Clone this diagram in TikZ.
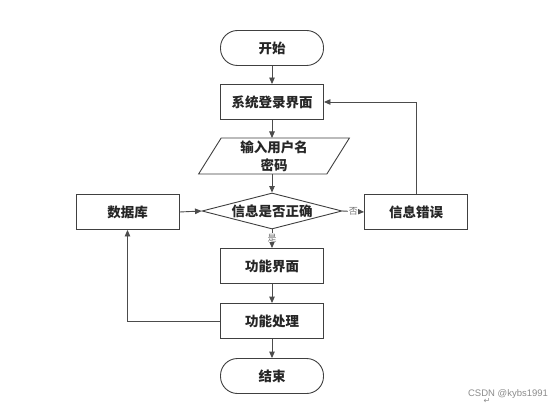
\documentclass[tikz,border=0pt]{standalone}
\usepackage{fontspec}
\newfontfamily\cjk{Noto Sans CJK SC}
\newfontfamily\wmfont{Liberation Sans}
\newfontfamily\symfont{DejaVu Sans}
\usetikzlibrary{shapes.geometric,arrows.meta}
\begin{document}
\begin{tikzpicture}[x=1pt,y=-1pt,
  every node/.style={font=\cjk\bfseries\fontsize{13.5pt}{18pt}\selectfont, text=black!85},
  box/.style={draw=black!75, line width=0.9pt, minimum width=103pt, minimum height=35pt, inner sep=0pt},
  term/.style={box, rounded corners=17pt},
  para/.style={draw=black!75, line width=0.9pt, trapezium, trapezium left angle=65, trapezium right angle=115,
     trapezium stretches=true, minimum width=152pt, minimum height=36pt, inner sep=0pt, align=center},
  dec/.style={draw=black!75, line width=0.9pt, diamond, aspect=3.9, minimum width=140pt, minimum height=36pt, inner sep=0pt},
  conn/.style={draw=black!70, line width=0.9pt, -{Triangle[length=6.5pt,width=5.5pt]}},
  lab/.style={font=\cjk\fontsize{9pt}{10pt}\selectfont, text=black!55, fill=white, inner sep=0.5pt}
]
\useasboundingbox (0,0) rectangle (553,406);
\fill[white] (0,0) rectangle (553,406);

\node[term] (start) at (272,48) {开始};
\node[box] (login) at (272,102) {系统登录界面};
\node[para] (input) at (274,156) {输入用户名\\密码};
\node[dec] (check) at (272,211) {信息是否正确};
\node[box] (db) at (127.5,212) {数据库};
\node[box] (err) at (416,212) {信息错误};
\node[box] (func) at (272,266) {功能界面};
\node[box] (proc) at (272,321) {功能处理};
\node[term] (end) at (272,376) {结束};

\draw[conn] (start) -- (login);
\draw[conn] (login) -- (272,138);
\draw[conn] (272,174) -- (check.north);
\draw[conn] (db.east) -- (check.west);
\draw[conn] (check.east) -- node[lab] {否} (err.west);
\draw[conn] (check.south) -- node[lab, pos=0.45] {是} (func.north);
\draw[conn] (func) -- (proc);
\draw[conn] (proc) -- (end);
\draw[conn] (proc.west) -| (db.south);
\draw[conn] (err.north) |- (login.east);

\node[font=\wmfont\fontsize{9.5pt}{11pt}\selectfont, text=black!45] (wm) at (508,394) {CSDN @kybs1991};
\node[font=\symfont\fontsize{8pt}{9pt}\selectfont, text=black!45] (cur) at (487,401) {↵};
\end{tikzpicture}
\end{document}
